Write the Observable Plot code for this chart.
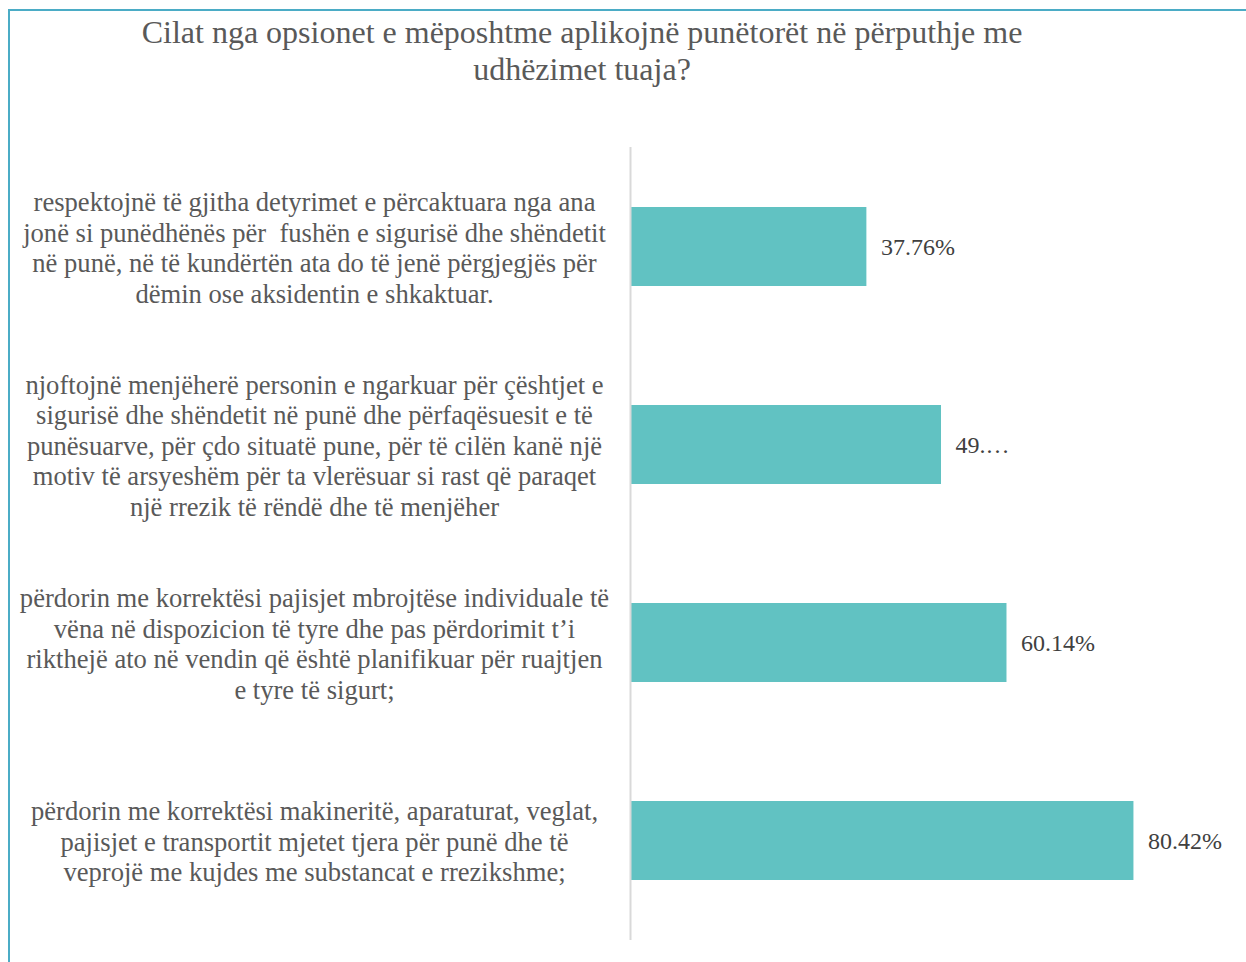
<!DOCTYPE html>
<html>
<head>
<meta charset="utf-8">
<script src="https://cdn.jsdelivr.net/npm/d3@7"></script>
<script src="https://cdn.jsdelivr.net/npm/@observablehq/plot@0.6"></script>
<style>
  html, body { margin: 0; padding: 0; background: #fff; }
  #wrap { position: relative; width: 1246px; height: 962px; overflow: hidden; font-family: 'Liberation Serif', 'Times New Roman', serif; }
  #frame { position: absolute; left: 8px; top: 9px; width: 1300px; height: 1000px; border-left: 2px solid #4BACC6; border-top: 2px solid #4BACC6; box-sizing: border-box; }
  #title { position: absolute; left: 0; top: 14px; width: 1164px; text-align: center; font-size: 32px; line-height: 37px; color: #595959; }
  #chart { position: absolute; left: 0; top: 110px; }
</style>
</head>
<body>
<div id="wrap">
  <div id="frame"></div>
  <div id="title">Cilat nga opsionet e mëposhtme aplikojnë punëtorët në përputhje me<br>udhëzimet tuaja?</div>
  <div id="chart"></div>
</div>
<script>
const categories = [
  "respektojnë të gjitha detyrimet e përcaktuara nga ana\njonë si punëdhënës për  fushën e sigurisë dhe shëndetit\nnë punë, në të kundërtën ata do të jenë përgjegjës për\ndëmin ose aksidentin e shkaktuar.",
  "njoftojnë menjëherë personin e ngarkuar për çështjet e\nsigurisë dhe shëndetit në punë dhe përfaqësuesit e të\npunësuarve, për çdo situatë pune, për të cilën kanë një\nmotiv të arsyeshëm për ta vlerësuar si rast që paraqet\nnjë rrezik të rëndë dhe të menjëher",
  "përdorin me korrektësi pajisjet mbrojtëse individuale të\nvëna në dispozicion të tyre dhe pas përdorimit t’i\nrikthejë ato në vendin që është planifikuar për ruajtjen\ne tyre të sigurt;",
  "përdorin me korrektësi makineritë, aparaturat, veglat,\npajisjet e transportit mjetet tjera për punë dhe të\nveprojë me kujdes me substancat e rrezikshme;"
];
const values = [37.76, 49.68, 60.14, 80.42];
const valueLabels = ["37.76%", "49.…", "60.14%", "80.42%"];

const data = categories.map((c, i) => ({category: c, value: values[i], label: valueLabels[i]}));

const chart = Plot.plot({
  width: 1246,
  height: 852,
  marginLeft: 630,
  marginRight: 0,
  marginTop: 37,
  marginBottom: 22,
  style: {fontFamily: "'Liberation Serif', 'Times New Roman', serif", background: "transparent"},
  x: {domain: [0, 98.4], axis: null},
  y: {domain: categories, paddingInner: 0.6, paddingOuter: 0.3, axis: null},
  marks: [
    Plot.barX(data, {x: "value", y: "category", fill: "#61C2C2"}),
    Plot.ruleX([0], {stroke: "#D9D9D9", strokeWidth: 2}),
    Plot.text(data, {x: "value", y: "category", text: "label", textAnchor: "start", dx: 14, fontSize: 24, fill: "#404040"}),
    Plot.text(data, {y: "category", text: "category", frameAnchor: "left", dx: -316, textAnchor: "middle", fontSize: 26.6, lineHeight: 1.15, fill: "#595959"})
  ]
});
document.getElementById("chart").appendChild(chart);
</script>
</body>
</html>
